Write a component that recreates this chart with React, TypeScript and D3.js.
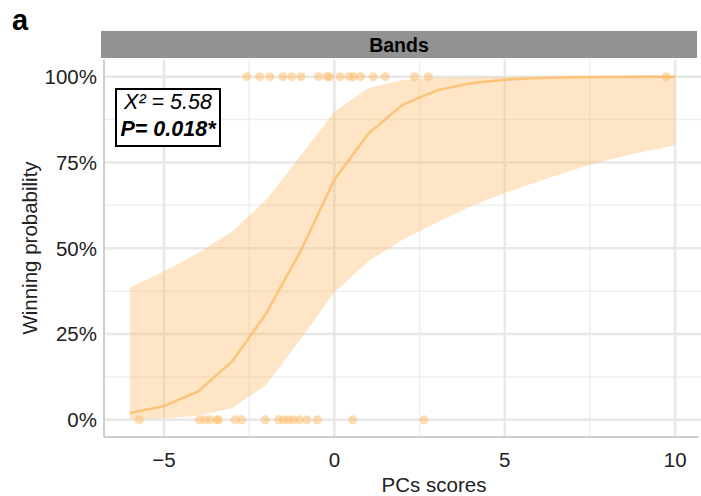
import React from "react";
import * as d3 from "d3";

const curveX = [-6, -5, -4, -3, -2, -1, 0, 1, 2, 3, 4, 5, 6, 7, 8, 9, 10];
const fitValues = [0.02, 0.04, 0.083, 0.17, 0.31, 0.49, 0.70, 0.834, 0.918, 0.96, 0.981, 0.991, 0.996, 0.998, 0.999, 1.0, 1.0];
const upperValues = [0.386, 0.432, 0.486, 0.549, 0.641, 0.768, 0.898, 0.967, 0.99, 0.997, 0.999, 1, 1, 1, 1, 1, 1];
const lowerValues = [0.001, 0.004, 0.012, 0.034, 0.102, 0.234, 0.372, 0.462, 0.525, 0.574, 0.622, 0.661, 0.695, 0.728, 0.757, 0.78, 0.8];

const winnerScores = [-2.57, -2.19, -1.89, -1.51, -1.25, -0.98, -0.47, -0.22, -0.13, 0.17, 0.44, 0.56, 0.77, 1.14, 1.49, 2.35, 2.76, 9.74];
const loserScores = [-5.72, -3.96, -3.8, -3.65, -3.45, -3.4, -2.91, -2.72, -2.03, -1.64, -1.5, -1.35, -1.2, -1.03, -0.81, -0.5, 0.54, 2.63];

const xTicks = [-5, 0, 5, 10];
const xMinor = [-2.5, 2.5, 7.5];
const yTicks = [0, 0.25, 0.5, 0.75, 1];
const yMinor = [0.125, 0.375, 0.625, 0.875];
const yTickLabels = ["0%", "25%", "50%", "75%", "100%"];

const W = 701;
const H = 496;
const panelLeft = 104;
const panelRight = 699;
const panelTop = 59.5;
const panelBottom = 437;

const ORANGE = "#FDBF6F";
const FONT = "'Liberation Sans', Arial, sans-serif";

export default function App() {
  const x = d3.scaleLinear().domain([-6.76, 10.7]).range([panelLeft, panelRight]);
  const y = d3.scaleLinear().domain([-0.05, 1.05]).range([panelBottom, panelTop]);

  const rows = curveX.map((cx, i) => ({ x: cx, fit: fitValues[i], lo: lowerValues[i], hi: upperValues[i] }));
  const area = d3
    .area<any>()
    .x((d) => x(d.x))
    .y0((d) => y(d.lo))
    .y1((d) => y(d.hi));
  const line = d3
    .line<any>()
    .x((d) => x(d.x))
    .y((d) => y(d.fit));

  return (
    <svg width={W} height={H} style={{ position: "absolute", left: 0, top: 0 }} fontFamily={FONT}>
      <rect x={0} y={0} width={W} height={H} fill="#fff" />
      <text x={12} y={30} fontSize={29} fontWeight="bold" fill="#000">a</text>

      {/* strip */}
      <rect x={101} y={31} width={596} height={27} fill="#929292" />
      <text x={(101 + 697) / 2} y={51.5} textAnchor="middle" fontSize={19.5} fontWeight="bold" fill="#000">Bands</text>

      {/* grid */}
      {yMinor.map((t) => (
        <line key={"ym" + t} x1={panelLeft} x2={W} y1={y(t)} y2={y(t)} stroke="#EFEFEF" strokeWidth={1.5} />
      ))}
      {xMinor.map((t) => (
        <line key={"xm" + t} x1={x(t)} x2={x(t)} y1={panelTop} y2={panelBottom} stroke="#EFEFEF" strokeWidth={1.5} />
      ))}
      {yTicks.map((t) => (
        <line key={"y" + t} x1={panelLeft} x2={W} y1={y(t)} y2={y(t)} stroke="#E8E8E8" strokeWidth={2.5} />
      ))}
      {xTicks.map((t) => (
        <line key={"x" + t} x1={x(t)} x2={x(t)} y1={panelTop} y2={panelBottom} stroke="#E8E8E8" strokeWidth={2.5} />
      ))}

      {/* axis lines */}
      <line x1={panelLeft} x2={panelLeft} y1={panelTop} y2={panelBottom} stroke="#CFCFCF" strokeWidth={2} />
      <line x1={panelLeft} x2={panelRight} y1={panelBottom} y2={panelBottom} stroke="#CFCFCF" strokeWidth={2} />

      {/* ribbon & line */}
      <path d={area(rows) || ""} fill={ORANGE} fillOpacity={0.4} />
      <path d={line(rows) || ""} fill="none" stroke={ORANGE} strokeOpacity={0.9} strokeWidth={2.5} />

      {/* points */}
      {winnerScores.map((s, i) => (
        <circle key={"w" + i} cx={x(s)} cy={y(1)} r={4.5} fill={ORANGE} fillOpacity={0.55} />
      ))}
      {loserScores.map((s, i) => (
        <circle key={"l" + i} cx={x(s)} cy={y(0)} r={4.5} fill={ORANGE} fillOpacity={0.55} />
      ))}

      {/* annotation */}
      <rect x={116} y={89} width={104} height={57} fill="#fff" stroke="#000" strokeWidth={2} />
      <text x={168} y={109} textAnchor="middle" fontSize={21.5} fontStyle="italic" fill="#000">X² = 5.58</text>
      <text x={168} y={136} textAnchor="middle" fontSize={21.5} fontStyle="italic" fontWeight="bold" fill="#000">P= 0.018*</text>

      {/* tick labels */}
      {yTicks.map((t, i) => (
        <text key={"yl" + t} x={97} y={y(t)} dy="0.36em" textAnchor="end" fontSize={20.5} fill="#222">{yTickLabels[i]}</text>
      ))}
      {xTicks.map((t) => (
        <text key={"xl" + t} x={x(t)} y={467} textAnchor="middle" fontSize={20.5} fill="#222">{t < 0 ? "\u2212" + Math.abs(t) : String(t)}</text>
      ))}

      {/* axis titles */}
      <text x={434} y={492} textAnchor="middle" fontSize={20.5} fill="#222">PCs scores</text>
      <text transform={`translate(37, 248) rotate(-90)`} textAnchor="middle" fontSize={20.5} fill="#222">Winning probability</text>
    </svg>
  );
}
